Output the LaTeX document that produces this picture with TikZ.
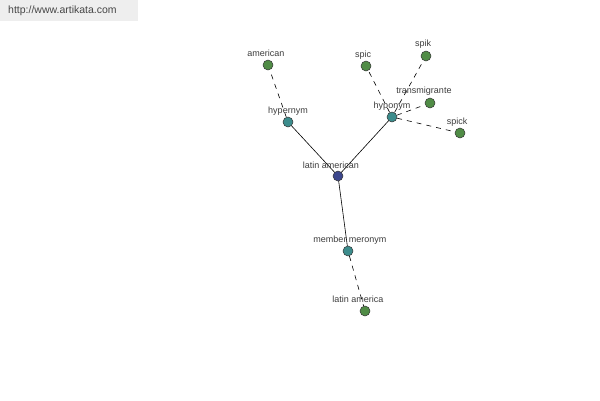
\documentclass[tikz,border=0pt]{standalone}
\usepackage{fontspec}
\setmainfont{Liberation Sans}
\begin{document}
\begin{tikzpicture}[x=1pt,y=-1pt,
  dot/.style={circle,draw=black!80,line width=0.5pt,minimum size=10pt,inner sep=0pt},
  leaf/.style={dot,fill={rgb,255:red,80;green,140;blue,70}},
  mid/.style={dot,fill={rgb,255:red,60;green,140;blue,140}},
  root/.style={dot,fill={rgb,255:red,60;green,70;blue,140}},
  lbl/.style={font=\fontsize{9}{10}\selectfont,text={rgb,255:red,60;green,60;blue,60},inner sep=0pt},
  rel/.style={draw=black,line width=0.6pt},
  dsh/.style={rel,dash pattern=on 5pt off 5pt}]
\useasboundingbox (0,0) rectangle (600,400);
\fill[fill={rgb,255:red,238;green,238;blue,238}] (0,0) rectangle (138,21);
\node[anchor=west,inner sep=0pt,font=\fontsize{10.5}{12}\selectfont,text={rgb,255:red,70;green,70;blue,70}] (url) at (8,11) {http://www.artikata.com};
% nodes
\node[root] (la) at (338,176) {};
\node[mid] (hyper) at (288,122) {};
\node[leaf] (am) at (268,65) {};
\node[mid] (hypo) at (392,117) {};
\node[leaf] (spic) at (366,66) {};
\node[leaf] (spik) at (426,56) {};
\node[leaf] (trans) at (430,103) {};
\node[leaf] (spick) at (460,133) {};
\node[mid] (mm) at (348,251) {};
\node[leaf] (lam) at (365,311) {};
% edges
\draw[rel] (la) -- (hyper);
\draw[rel] (la) -- (hypo);
\draw[rel] (la) -- (mm);
\draw[dsh] (hyper) -- (am);
\draw[dsh] (hypo) -- (spic);
\draw[dsh] (hypo) -- (spik);
\draw[dsh] (hypo) -- (trans);
\draw[dsh] (hypo) -- (spick);
\draw[dsh] (mm) -- (lam);
% labels
\node[lbl] (tla) at (331,165) {latin american};
\node[lbl] (thyper) at (288,111) {hypernym};
\node[lbl] (tam) at (266,53) {american};
\node[lbl] (thypo) at (392,106) {hyponym};
\node[lbl] (tspic) at (363,55) {spic};
\node[lbl] (tspik) at (423,44) {spik};
\node[lbl] (ttrans) at (424,91) {transmigrante};
\node[lbl] (tspick) at (457,122) {spick};
\node[lbl] (tmm) at (350,240) {member meronym};
\node[lbl] (tlam) at (358,299) {latin america};
\end{tikzpicture}
\end{document}
